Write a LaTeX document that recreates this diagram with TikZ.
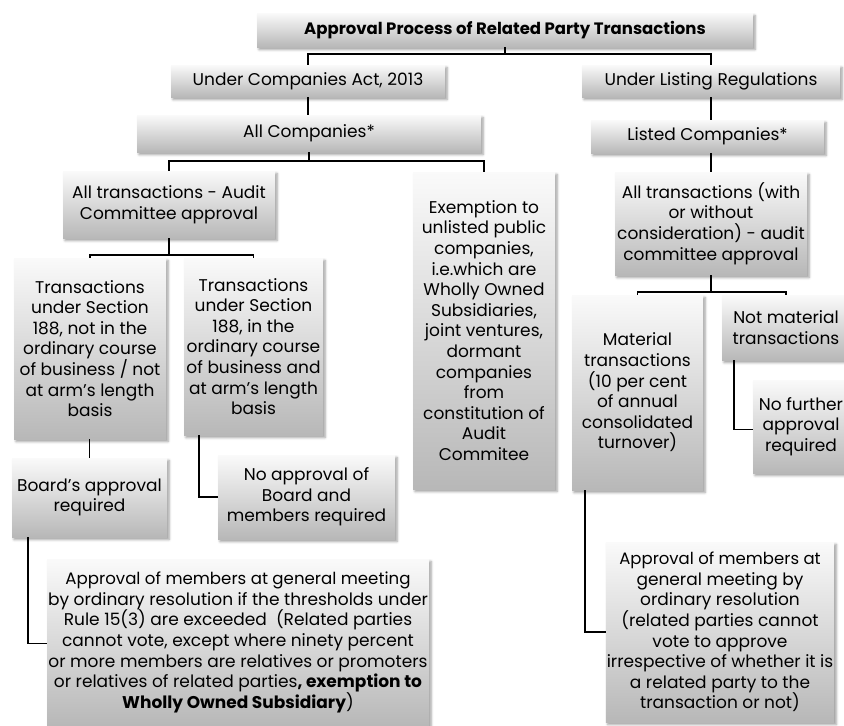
\documentclass[tikz,border=0pt]{standalone}
\usepackage{fontspec}
\setmainfont{Poppins}
\usetikzlibrary{shadows.blur,calc}
\tikzset{
  box/.style={inner sep=1pt, align=center, top color=black!2, bottom color=black!28,
    blur shadow={shadow xshift=2pt, shadow yshift=-2.5pt, shadow blur radius=2.5pt, shadow opacity=40},
    font=\fontsize{17}{20.6}\selectfont},
  conn/.style={draw=black, line width=1.4pt}
}
\newcommand{\bx}[6]{%
  \node[box, minimum width=#4 pt, minimum height=#5 pt] (#1) at (#2,#3) {#6};}
\begin{document}
\begin{tikzpicture}[x=1pt,y=-1pt]
\useasboundingbox (0,0) rectangle (844,726);
\bx{title}{505}{30}{496}{34}{\fontsize{16.5}{19}\selectfont\bfseries Approval Process of Related Party Transactions}
\bx{ca}{308}{81}{274}{32}{Under Companies Act, 2013}
\bx{lr}{711}{81}{258}{32}{Under Listing Regulations}
\bx{allc}{309}{133.5}{344}{37}{All Companies*}
\bx{lc}{707.5}{136.5}{233}{33}{Listed Companies*}
\bx{at}{169}{204.5}{212}{67}{All transactions - Audit\\Committee approval}
\bx{ex}{484}{330.5}{142}{317}{Exemption to\\unlisted public\\companies,\\i.e.which are\\Wholly Owned\\Subsidiaries,\\joint ventures,\\dormant\\companies\\from\\constitution of\\Audit\\Commitee}
\bx{rat}{711}{223.5}{192}{103}{All transactions (with\\or without\\consideration) - audit\\committee approval}
\bx{t1}{90}{348.5}{152}{181}{Transactions\\under Section\\188, not in the\\ordinary course\\of business / not\\at arm's length\\basis}
\bx{t2}{253.5}{346.5}{139}{177}{Transactions\\under Section\\188, in the\\ordinary course\\of business and\\at arm's length\\basis}
\bx{bd}{89.5}{497.5}{155}{79}{Board's approval\\required}
\bx{na}{306.5}{497}{177}{84}{No approval of\\Board and\\members required}
\bx{big}{238}{642.5}{382}{167}{\fontsize{16.6}{21.7}\selectfont Approval of members at general meeting\\by ordinary resolution if the thresholds under\\Rule 15(3) are exceeded\ \ (Related parties\\cannot vote, except where ninety percent\\or more members are relatives or promoters\\or relatives of related parties\textbf{, exemption to}\\\textbf{Wholly Owned Subsidiary})}
\bx{mat}{637.5}{392.5}{131}{195}{Material\\transactions\\(10 per cent\\of annual\\consolidated\\turnover)}
\bx{nm}{786}{327.5}{128}{65}{Not material\\transactions}
\bx{nf}{801}{426.5}{96}{93}{No further\\approval\\required}
\bx{rap}{720}{632}{226}{180}{\fontsize{16.5}{20.4}\selectfont Approval of members at\\general meeting by\\ordinary resolution\\(related parties cannot\\vote to approve\\irrespective of whether it is\\a related party to the\\transaction or not)}
% connectors
\coordinate (j1) at (505,54);
\coordinate (j2) at (309,161);
\coordinate (j3) at (169,255);
\coordinate (j4) at (711,292);
\draw[conn] (title.south) -- (j1);
\draw[conn] (ca.north) |- (j1) -| (lr.north);
\draw[conn] (ca.south) -- (ca.south |- allc.north);
\draw[conn] (lr.south) -- (lr.south |- lc.north);
\draw[conn] (allc.south) -- (j2);
\draw[conn] (at.north) |- (j2) -| (ex.north);
\draw[conn] (rat.north |- lc.south) -- (rat.north);
\draw[conn] (at.south) -- (j3);
\draw[conn] (t1.north) |- (j3) -| (t2.north);
\draw[conn] (rat.south) -- (j4);
\draw[conn] (mat.north) |- (j4) -| (nm.north);
\draw[conn] (t1.south -| bd.north) -- (bd.north);
\draw[conn] ([xshift=15pt]t2.south west) |- (na.west);
\draw[conn] ([xshift=16pt]bd.south west) |- ([yshift=-1pt]big.west);
\draw[conn] ([xshift=12pt]nm.south west) |- ([yshift=-3pt]nf.west);
\draw[conn] ([xshift=13pt]mat.south west) |- (rap.west);
\end{tikzpicture}
\end{document}
